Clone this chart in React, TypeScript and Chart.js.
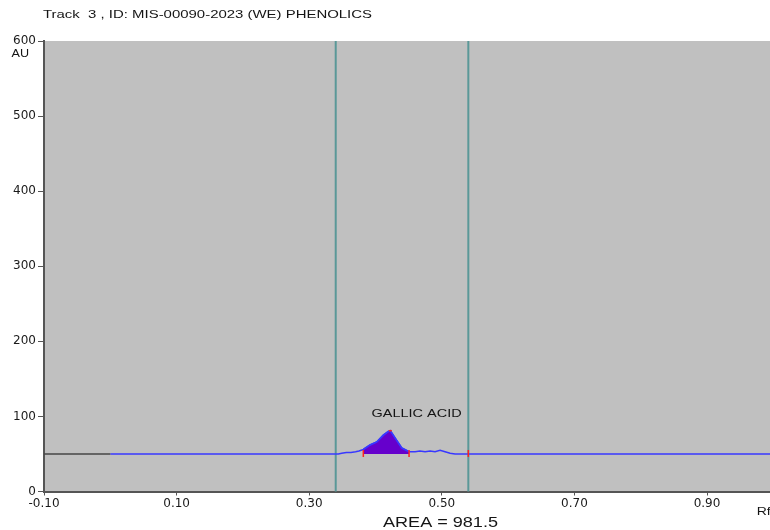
import React, { useEffect, useRef } from "react";
import { Chart, registerables } from "chart.js";

Chart.register(...registerables);

const titleText = "Track  3 , ID: MIS-00090-2023 (WE) PHENOLICS";
const peakName = "GALLIC ACID";
const areaText = "AREA = 981.5";
const yUnit = "AU";
const xUnit = "Rf";

const xTicks = [-0.1, 0.1, 0.3, 0.5, 0.7, 0.9];
const yTicks = [0, 100, 200, 300, 400, 500, 600];

// dark leading baseline segment
const preRf = [-0.1, 0.0];
const preAu = [50, 50];

// blue densitogram trace
const traceRf = [
  0.0, 0.344, 0.349, 0.356, 0.363, 0.370, 0.375, 0.3816, 0.3917, 0.4018, 0.4118,
  0.4193, 0.4223, 0.432, 0.4396, 0.4506, 0.4597, 0.467, 0.4748, 0.4823, 0.4898,
  0.4974, 0.5049, 0.5125, 0.520, 0.995,
];
const traceAu = [
  50, 50, 51, 52, 52, 53, 54, 56, 62, 66, 75,
  80, 81, 68, 58, 53, 53, 54, 53, 54, 53,
  55, 53, 51, 50, 50,
];

// integrated peak region
const peakRf = [0.3816, 0.3917, 0.4018, 0.4118, 0.4193, 0.4223, 0.432, 0.4396, 0.4506];
const peakAu = [56, 62, 66, 75, 80, 81, 68, 58, 53];

const markerRf = [0.34, 0.54];
const redTickRf = [0.3816, 0.4506, 0.54];
const apexRf = 0.4223;
const apexAu = 81;
const peakLabelRf = 0.462;
const peakLabelAu = 104;
const areaLabelRf = 0.498;

const toPts = (xs: number[], ys: number[]) => xs.map((x, i) => ({ x, y: ys[i] }));

function drawStretched(
  ctx: CanvasRenderingContext2D,
  text: string,
  x: number,
  y: number,
  fontPx: number,
  targetW: number,
  align: "left" | "center"
) {
  ctx.save();
  ctx.font = `${fontPx}px "Liberation Sans", Arial, sans-serif`;
  const w = ctx.measureText(text).width;
  const sx = targetW / w;
  ctx.translate(align === "center" ? x - targetW / 2 : x, y);
  ctx.scale(sx, 1);
  ctx.textAlign = "left";
  ctx.textBaseline = "alphabetic";
  ctx.fillStyle = "#151515";
  ctx.fillText(text, 0, 0);
  ctx.restore();
}

const decorPlugin = {
  id: "decor",
  beforeDraw(chart: any) {
    const { ctx, chartArea } = chart;
    ctx.save();
    ctx.fillStyle = "#c0c0c0";
    ctx.fillRect(chartArea.left, chartArea.top, chartArea.right - chartArea.left, chartArea.bottom - chartArea.top);
    ctx.restore();
  },
  beforeDatasetsDraw(chart: any) {
    const { ctx, chartArea, scales } = chart;
    ctx.save();
    ctx.strokeStyle = "#5a9898";
    ctx.lineWidth = 2;
    markerRf.forEach((r) => {
      const px = scales.x.getPixelForValue(r);
      ctx.beginPath();
      ctx.moveTo(px, chartArea.top);
      ctx.lineTo(px, chartArea.bottom);
      ctx.stroke();
    });
    ctx.restore();
  },
  afterDatasetsDraw(chart: any) {
    const { ctx, scales, chartArea } = chart;
    const x = scales.x;
    const y = scales.y;
    ctx.save();
    ctx.strokeStyle = "#ff2020";
    ctx.lineWidth = 1.5;
    redTickRf.forEach((r) => {
      const px = x.getPixelForValue(r);
      const py = y.getPixelForValue(50);
      ctx.beginPath();
      ctx.moveTo(px, py - 4);
      ctx.lineTo(px, py + 3);
      ctx.stroke();
    });
    const ax = x.getPixelForValue(apexRf);
    const ay = y.getPixelForValue(apexAu);
    ctx.beginPath();
    ctx.moveTo(ax - 1.5, ay);
    ctx.lineTo(ax + 1.5, ay);
    ctx.stroke();
    ctx.restore();

    drawStretched(ctx, peakName, x.getPixelForValue(peakLabelRf), y.getPixelForValue(peakLabelAu) + 4, 11, 90, "center");
    drawStretched(ctx, areaText, x.getPixelForValue(areaLabelRf), chartArea.bottom + 35.5, 15, 115, "center");
  },
  afterDraw(chart: any) {
    const { ctx, chartArea } = chart;
    drawStretched(ctx, titleText, 43, 18, 11, 329, "left");
    drawStretched(ctx, yUnit, 11.5, chartArea.top + 16, 10.5, 17.5, "left");
    drawStretched(ctx, xUnit, 756.7, chartArea.bottom + 23.5, 11, 14, "left");
  },
};

export default function App() {
  const ref = useRef<HTMLCanvasElement>(null);
  useEffect(() => {
    if (!ref.current) return;
    const tickFont = { family: "'DejaVu Sans', sans-serif", size: 12 };
    const chart = new Chart(ref.current, {
      type: "line",
      data: {
        datasets: [
          {
            data: toPts(preRf, preAu),
            borderColor: "#464646",
            borderWidth: 1.5,
            pointRadius: 0,
            fill: false,
            tension: 0,
          },
          {
            data: toPts(traceRf, traceAu),
            borderColor: "#3838ff",
            borderWidth: 1.5,
            pointRadius: 0,
            fill: false,
            tension: 0,
          },
          {
            data: toPts(peakRf, peakAu),
            borderColor: "#3838ff",
            backgroundColor: "#6600cc",
            borderWidth: 1.5,
            pointRadius: 0,
            fill: { value: 50 },
            tension: 0,
          },
        ],
      },
      options: {
        responsive: false,
        animation: false,
        events: [],
        layout: { padding: { top: 41, left: 0, right: 0, bottom: 0 } },
        plugins: {
          legend: { display: false },
          tooltip: { enabled: false },
          title: { display: false },
        },
        scales: {
          x: {
            type: "linear",
            min: -0.1,
            max: 0.995,
            afterBuildTicks: (s: any) => {
              s.ticks = xTicks.map((v) => ({ value: v }));
            },
            afterFit: (s: any) => {
              s.height = 38.5;
            },
            ticks: {
              callback: (v: any) => Number(v).toFixed(2),
              font: tickFont,
              color: "#1a1a1a",
              padding: 1,
              maxRotation: 0,
              autoSkip: false,
            },
            grid: { drawOnChartArea: false, drawTicks: true, tickLength: 4, color: "#555", lineWidth: 1 },
            border: { color: "#555", width: 2 },
          },
          y: {
            type: "linear",
            min: 0,
            max: 600,
            afterBuildTicks: (s: any) => {
              s.ticks = yTicks.map((v) => ({ value: v }));
            },
            afterFit: (s: any) => {
              s.width = 44;
            },
            ticks: {
              callback: (v: any) => String(v),
              font: tickFont,
              color: "#1a1a1a",
              padding: 2,
              autoSkip: false,
            },
            grid: { drawOnChartArea: false, drawTicks: true, tickLength: 6, color: "#555", lineWidth: 1 },
            border: { color: "#555", width: 2 },
          },
        },
      },
      plugins: [decorPlugin],
    });
    return () => chart.destroy();
  }, []);
  return (
    <div style={{ position: "absolute", left: 0, top: 0, width: 770, height: 530, background: "#fff" }}>
      <canvas ref={ref} width={770} height={530} style={{ display: "block", width: 770, height: 530 }} />
    </div>
  );
}
